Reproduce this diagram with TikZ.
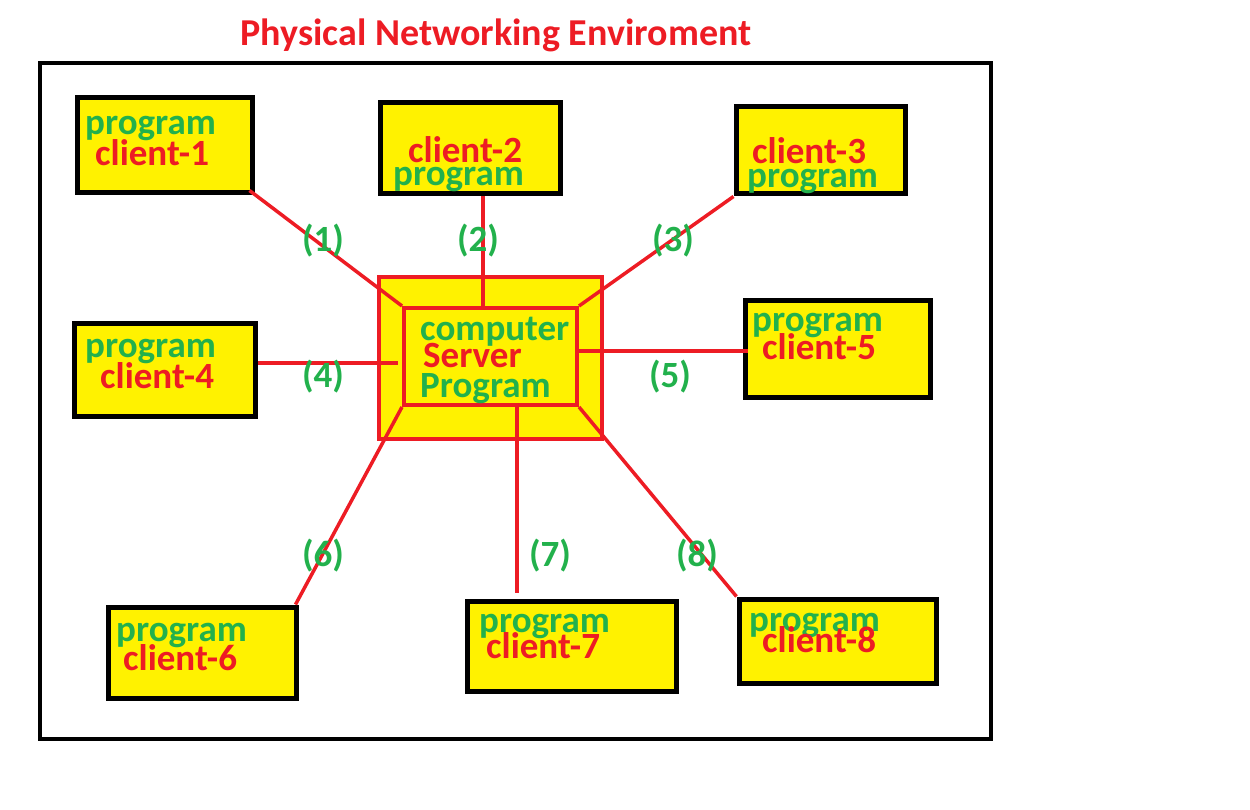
\documentclass[tikz,border=0pt]{standalone}
\usepackage{fontspec}
\setmainfont{Carlito}
\definecolor{pyellow}{RGB}{255,242,0}
\definecolor{pred}{RGB}{237,28,36}
\definecolor{pgreen}{RGB}{34,177,76}
\begin{document}
\begin{tikzpicture}[x=1pt,y=-1pt,
  clientbox/.style={draw=black,line width=5pt,fill=pyellow,inner sep=0pt},
  serverbox/.style={draw=pred,line width=4pt,fill=pyellow,inner sep=0pt},
  gtxt/.style={text=pgreen,font=\fontsize{37}{37}\selectfont\bfseries,inner sep=0pt,anchor=base west},
  rtxt/.style={text=pred,font=\fontsize{37}{37}\selectfont\bfseries,inner sep=0pt,anchor=base west},
  lbl/.style={text=pgreen,font=\fontsize{37}{37}\selectfont\bfseries,inner sep=0pt},
  link/.style={draw=pred,line width=3.5pt}]
\useasboundingbox (0,0) rectangle (1250,810);
% title
\node[text=pred,font=\fontsize{38}{38}\selectfont\bfseries,inner sep=0pt,anchor=base] (title) at (496,46) {Physical Networking Enviroment};
% frame
\node[draw=black,line width=4pt,minimum width=951pt,minimum height=676pt,inner sep=0pt] (frame) at (515.5,401) {};
% server
\node[serverbox,minimum width=223pt,minimum height=162pt] (srvout) at (490.5,358) {};
\node[serverbox,minimum width=173pt,minimum height=97pt] (srv) at (490.5,356.5) {};
% clients
\node[clientbox,minimum width=175pt,minimum height=95pt] (c1) at (164.5,145.5) {};
\node[clientbox,minimum width=180pt,minimum height=91pt] (c2) at (470,148.5) {};
\node[clientbox,minimum width=169pt,minimum height=87pt] (c3) at (820.5,150.5) {};
\node[clientbox,minimum width=181pt,minimum height=93pt] (c4) at (164.5,369.5) {};
\node[clientbox,minimum width=185pt,minimum height=96pt] (c5) at (837.5,349) {};
\node[clientbox,minimum width=188pt,minimum height=91pt] (c6) at (202,652.5) {};
\node[clientbox,minimum width=209pt,minimum height=90pt] (c7) at (571.5,646) {};
\node[clientbox,minimum width=197pt,minimum height=84pt] (c8) at (837.5,641) {};
% links
\draw[link] ([xshift=-5pt,yshift=5pt]c1.south east) -- (srv.north west);
\draw[link] (c2.south -| 483,0) -- (srv.north -| 483,0);
\draw[link] (c3.south west) -- (srv.north east);
\draw[link] (c4.east |- 0,363) -- ([xshift=-4pt]srv.west |- 0,363);
\draw[link] (srv.east |- 0,351) -- ([xshift=5pt]c5.west |- 0,351);
\draw[link] (srv.south west) -- ([xshift=-3pt]c6.north east);
\draw[link] (srv.south -| 517,0) -- ([yshift=6pt]c7.north -| 517,0);
\draw[link] (srv.south east) -- (c8.north west);
% texts
\node[gtxt] (t1a) at (85,135) {program};
\node[rtxt] (t1b) at (95,166) {client-1};
\node[rtxt] (t2a) at (408,163) {client-2};
\node[gtxt] (t2b) at (393,186) {program};
\node[rtxt] (t3a) at (752,164) {client-3};
\node[gtxt] (t3b) at (747,188) {program};
\node[gtxt] (t4a) at (85,357) {program};
\node[rtxt] (t4b) at (100,388) {client-4};
\node[gtxt] (t5a) at (752,331) {program};
\node[rtxt] (t5b) at (762,359) {client-5};
\node[gtxt] (t6a) at (116,641) {program};
\node[rtxt] (t6b) at (123,670) {client-6};
\node[gtxt] (t7a) at (479,632) {program};
\node[rtxt] (t7b) at (486,658) {client-7};
\node[gtxt] (t8a) at (749,631) {program};
\node[rtxt] (t8b) at (762,652) {client-8};
\node[gtxt] (s1) at (420,340) {computer};
\node[rtxt] (s2) at (423,367) {Server};
\node[gtxt] (s3) at (420,397) {Program};
% labels
\node[lbl] (l1) at (323,241) {(1)};
\node[lbl] (l2) at (478,241) {(2)};
\node[lbl] (l3) at (673,241) {(3)};
\node[lbl] (l4) at (323,377) {(4)};
\node[lbl] (l5) at (670,377) {(5)};
\node[lbl] (l6) at (323,556) {(6)};
\node[lbl] (l7) at (550,556) {(7)};
\node[lbl] (l8) at (697,556) {(8)};
\end{tikzpicture}
\end{document}
